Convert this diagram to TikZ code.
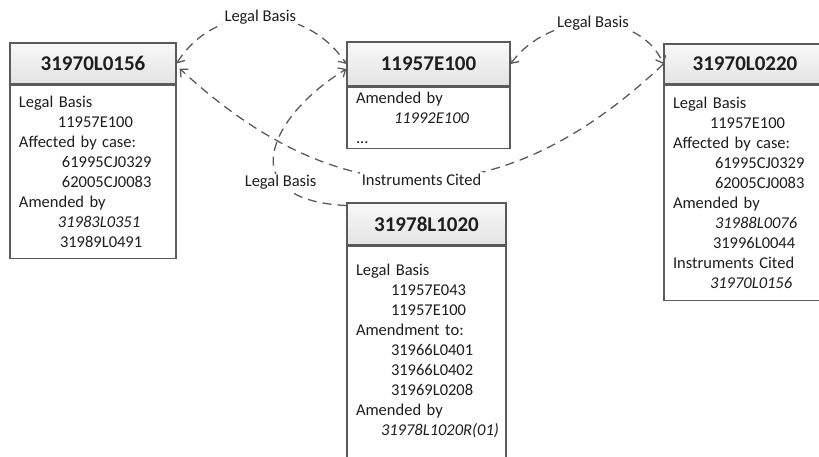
\documentclass[tikz,border=0pt]{standalone}
\usepackage{fontspec}
\setmainfont{Carlito}
\usetikzlibrary{positioning,arrows.meta}
\definecolor{edgegray}{HTML}{5A5A5A}
\definecolor{txtgray}{HTML}{1E1E1E}
\newcommand{\ind}[1]{\hspace*{#1pt}}

\begin{document}
\begin{tikzpicture}[x=1pt,y=-1pt, >={Straight Barb[length=6pt,width=11pt]},
	head/.style={draw=edgegray, line width=1.2pt, top color=gray!5, bottom color=gray!22, minimum height=42pt, inner sep=0pt, font=\fontsize{21}{24}\selectfont\bfseries, text=txtgray},
	body/.style={draw=edgegray, line width=1.2pt, fill=white, align=left, inner xsep=9pt, font=\fontsize{16.5}{20}\selectfont, text=txtgray},
	link/.style={draw=edgegray, line width=1.3pt, dash pattern=on 9pt off 6pt},
	lbl/.style={fill=white, inner sep=1.5pt, font=\fontsize{16.5}{20}\selectfont, text=txtgray}]
	\useasboundingbox (0,0) rectangle (819,456);
	% documents
	\node [head, minimum width=166pt, minimum height=41pt] (h0156) at (93,63.5) {31970L0156};
	\node [body, text width=148pt, inner ysep=11pt, below=0pt of h0156] (b0156) {Legal Basis\\
		\ind{39}11957E100\\
		Affected by case:\\
		\ind{43}61995CJ0329\\
		\ind{43}62005CJ0083\\
		Amended by\\
		\ind{39}\textit{31983L0351}\\
		\ind{41}31989L0491};
	\node [head, minimum width=163pt, minimum height=44pt] (h100) at (428.5,64) {11957E100};
	\node [body, text width=145pt, inner ysep=5pt, below=0pt of h100] (b100) {Amended by\\
		\ind{38}\textit{11992E100}\\
		...};
	\node [head, minimum width=162pt, minimum height=40pt] (h0220) at (745,64) {31970L0220};
	\node [body, text width=144pt, inner ysep=12pt, below=0pt of h0220] (b0220) {Legal Basis\\
		\ind{37}11957E100\\
		Affected by case:\\
		\ind{42}61995CJ0329\\
		\ind{42}62005CJ0083\\
		Amended by\\
		\ind{42}\textit{31988L0076}\\
		\ind{40}31996L0044\\
		Instruments Cited\\
		\ind{37}\textit{31970L0156}};
	\node [head, minimum width=159pt, minimum height=42pt] (h1020) at (426.5,224) {31978L1020};
	\node [body, text width=141pt, inner ysep=18pt, below=0pt of h1020] (b1020) {Legal Basis\\
		\ind{35}11957E043\\
		\ind{35}11957E100\\
		Amendment to:\\
		\ind{35}31966L0401\\
		\ind{35}31966L0402\\
		\ind{35}31969L0208\\
		Amended by\\
		\ind{25}\textit{31978L1020R(01)}\\
		~};
	% links
	\draw [link, <->] (h0156.east) .. controls (215,2) and (305,2) .. node [lbl] {Legal Basis} (h100.west);
	\draw [link, <->] (h100.east) .. controls (550,10) and (640,10) .. node [lbl] {Legal Basis} (h0220.west);
	\draw [link, ->] (h0220.west) .. controls (502,217) and (341,218) .. node [lbl] {Instruments Cited} ([xshift=3pt,yshift=-5pt]h0156.east);
	\draw [link, ->] (h1020.167) .. controls (230,200) and (270,115) .. node [lbl, pos=0.3] {Legal Basis} ([yshift=-5pt]h100.west);
\end{tikzpicture}
\end{document}
